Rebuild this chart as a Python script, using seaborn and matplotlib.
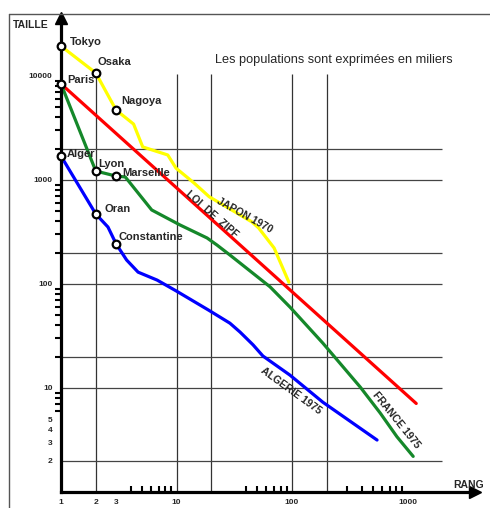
import numpy as np
import pandas as pd
import matplotlib.pyplot as plt
import seaborn as sns
from matplotlib.ticker import NullFormatter
from matplotlib.lines import Line2D

sns.set_style("white")
plt.rcParams['font.family'] = ['Liberation Sans', 'DejaVu Sans']

# values (rank, size in thousands)
japon_rang = [1, 2, 3, 4.25, 5.1, 8.4, 9.9, 14.2, 19.2, 45, 51.5, 70, 94]
japon_taille = [19400, 10700, 4700, 3450, 2080, 1740, 1300, 935, 690, 395, 345, 222, 104]
france_rang = [1, 2, 3, 3.6, 6.1, 10.7, 18.4, 22.4, 29, 64.5, 96, 185, 390, 580, 810, 1120]
france_taille = [8400, 1220, 1090, 1070, 515, 370, 277, 237, 190, 94, 60, 27, 10.2, 5.75, 3.4, 2.2]
algerie_rang = [1, 2, 2.55, 3, 3.25, 3.7, 4.65, 6.8, 9.9, 19, 29, 35.5, 46, 56, 96, 185, 545]
algerie_taille = [1700, 471, 353, 243, 212, 170, 130, 109, 86, 56, 42, 34.5, 26, 20.3, 13.3, 7.3, 3.16]
zipf_rang = [1, 1190]
zipf_taille = [8400, 7.1]

villes_japon = ["Tokyo", "Osaka", "Nagoya"]
villes_france = ["Paris", "Lyon", "Marseille"]
villes_algerie = ["Alger", "Oran", "Constantine"]
rang_villes = [1, 2, 3]

grid_x = [2, 10, 20, 100, 200]
grid_y = [2, 10, 20, 100, 200, 1000, 2000]
xtick_vals = [1, 2, 3, 10, 100, 1000]
ytick_vals = [2, 3, 4, 5, 10, 100, 1000, 10000]

df = pd.concat([
    pd.DataFrame({"rang": japon_rang, "taille": japon_taille, "serie": "JAPON 1970"}),
    pd.DataFrame({"rang": zipf_rang, "taille": zipf_taille, "serie": "LOI DE ZIPF"}),
    pd.DataFrame({"rang": france_rang, "taille": france_taille, "serie": "FRANCE 1975"}),
    pd.DataFrame({"rang": algerie_rang, "taille": algerie_taille, "serie": "ALGERIE 1975"}),
])
palette = {"JAPON 1970": "#ffff00", "LOI DE ZIPF": "#ff0000",
           "FRANCE 1975": "#15882a", "ALGERIE 1975": "#0000ff"}

W, H = 490, 508
fig = plt.figure(figsize=(W / 100, H / 100), dpi=100)
# axes: rank 1 at px 61, right end px 475 ; size 1 at px 492, top px 18
ax = fig.add_axes([61 / W, (H - 492) / H, (475 - 61) / W, (492 - 18) / H])
ax.set_xscale("log")
ax.set_yscale("log")
ax.set_xlim(1, 10 ** ((475 - 61) / 115.5))
ax.set_ylim(1, 10 ** ((492 - 18) / 104))

ax.vlines(grid_x, 1, 10500, colors="#333333", lw=0.9, zorder=1)
ax.hlines(grid_y, 1, 2000, colors="#444444", lw=0.9, zorder=1)

sns.lineplot(data=df, x="rang", y="taille", hue="serie", palette=palette,
             estimator=None, sort=False, lw=2.3, legend=False, ax=ax, zorder=2)

# cities (rank 1, 2, 3 of each country)
for rangs, tailles, noms, offs in [
    (japon_rang, japon_taille, villes_japon, [(6.5, 3), (1.5, 8), (3.6, 6.5)]),
    (france_rang, france_taille, villes_france, [(4.3, 3), (2, 5), (4.3, 2)]),
    (algerie_rang, algerie_taille, villes_algerie, [(4.3, 1.5), (6.5, 3.6), (2, 5)]),
]:
    idx = [rangs.index(r) for r in rang_villes]
    xs = [rangs[i] for i in idx]
    ys = [tailles[i] for i in idx]
    ax.plot(xs, ys, "o", ms=5.5, mfc="white", mec="black", mew=1.6,
            ls="none", zorder=4, clip_on=False)
    for r, t, nom, o in zip(xs, ys, noms, offs):
        ax.annotate(nom, (r, t), xytext=o, textcoords="offset points",
                    fontsize=8, fontweight="bold", va="center", ha="left", zorder=5)

# curve labels
ax.text(39, 460, "JAPON 1970", rotation=-29, fontsize=7.5, fontweight="bold",
        ha="center", va="center")
ax.text(20.3, 470, "LOI  DE  ZIPF", rotation=-41, fontsize=7.5, fontweight="bold",
        ha="center", va="center")
ax.text(98, 9.4, "ALGERIE 1975", rotation=-36, fontsize=7.5, fontweight="bold",
        ha="center", va="center")
ax.text(795, 4.9, "FRANCE 1975", rotation=-51, fontsize=7.5, fontweight="bold",
        ha="center", va="center")
ax.text(230, 14250, "Les populations sont exprimées en miliers", fontsize=9.2,
        ha="center", va="center")

# axes and ticks
sns.despine(ax=ax)
for s in ["left", "bottom"]:
    ax.spines[s].set_linewidth(2.3)
    ax.spines[s].set_color("black")
ax.plot([0], [1], marker="^", ms=9, color="black", transform=ax.transAxes, clip_on=False)
ax.plot([1], [0], marker=">", ms=9, color="black", transform=ax.transAxes, clip_on=False)

ax.set_xticks(xtick_vals)
ax.set_xticklabels([str(v) for v in xtick_vals])
ax.set_xticks([3, 4, 5, 6, 7, 8, 9, 40, 50, 60, 70, 80, 90,
               300, 400, 500, 600, 700, 800, 900], minor=True)
ax.set_yticks(ytick_vals)
ax.set_yticklabels([str(v) for v in ytick_vals])
ax.set_yticks([m * 10 ** k for k in range(4) for m in range(2, 10)], minor=True)
ax.xaxis.set_minor_formatter(NullFormatter())
ax.yaxis.set_minor_formatter(NullFormatter())
ax.tick_params(which="both", bottom=True, left=True)
ax.tick_params(which="major", length=0, labelsize=6)
ax.tick_params(axis="x", which="major", pad=5)
ax.tick_params(axis="y", which="major", pad=6)
for lab in ax.get_xticklabels() + ax.get_yticklabels():
    lab.set_fontweight("bold")
ax.tick_params(axis="x", which="minor", direction="in", length=4, width=1.5, color="black")
ax.tick_params(axis="y", which="minor", direction="out", length=4, width=1.5, color="black")
ax.set_xlabel("")
ax.set_ylabel("")

fig.text(13 / W, 1 - 25 / H, "TAILLE", fontsize=7.5, fontweight="bold", va="center")
fig.text(453 / W, 1 - 485 / H, "RANG", fontsize=7.5, fontweight="bold", va="center")

# outer frame
fig.add_artist(Line2D([9 / W, 1], [1 - 14 / H] * 2, color="#555555", lw=1))
fig.add_artist(Line2D([9 / W] * 2, [0, 1 - 14 / H], color="#555555", lw=1))

fig.savefig("out.png", dpi=100)
